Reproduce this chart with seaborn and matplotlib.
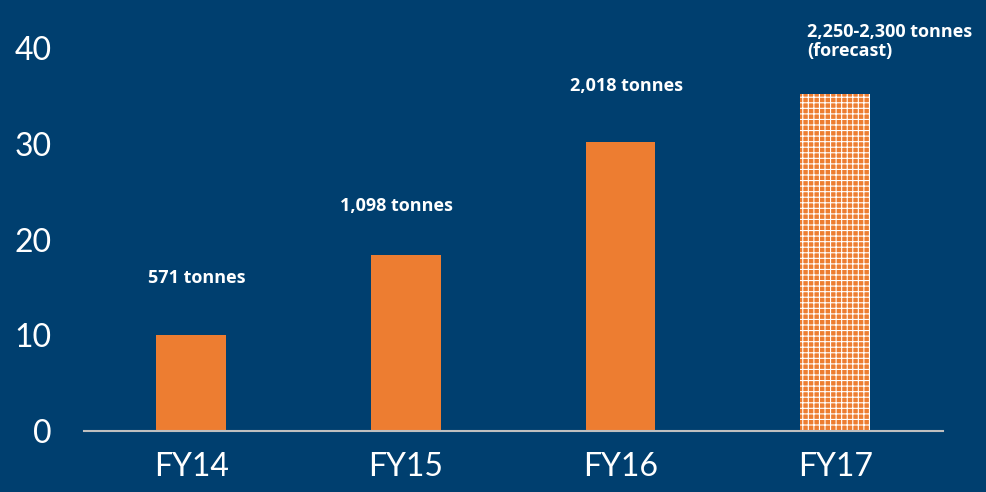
import matplotlib
matplotlib.use("Agg")
import pandas as pd
import matplotlib.pyplot as plt
import seaborn as sns

# chart data
years = ["FY14", "FY15", "FY16", "FY17"]
values = [10, 18.4, 30.2, 35.2]
labels = ["571 tonnes", "1,098 tonnes", "2,018 tonnes", "2,250-2,300 tonnes\n(forecast)"]
forecast = [False, False, False, True]

BG = "#003F6F"
ORANGE = "#ED7D31"

sns.set_style("dark")
plt.rcParams["font.family"] = ["Lato", "DejaVu Sans"]
plt.rcParams["hatch.linewidth"] = 0.8

df = pd.DataFrame({"year": years, "value": values})

fig = plt.figure(figsize=(9.87, 4.92), dpi=100, facecolor=BG)
ax = fig.add_axes([0.085, 0.124, 0.87, 0.778])
ax.set_facecolor(BG)

sns.barplot(data=df, x="year", y="value", color=ORANGE, saturation=1,
            width=0.325, ax=ax)

# forecast bar gets the checkered fill
for patch, fc in zip(ax.patches, forecast):
    patch.set_linewidth(0)
    if fc:
        patch.set_hatch("+++")
        patch.set_edgecolor("white")

ax.set_xlim(-0.5, 3.5)
ax.set_ylim(0, 40)
ax.set_yticks([0, 10, 20, 30, 40])
ax.set_xlabel("")
ax.set_ylabel("")
ax.grid(False)
for side in ["top", "right", "left"]:
    ax.spines[side].set_visible(False)
ax.spines["bottom"].set_color("#BFBFBF")
ax.spines["bottom"].set_linewidth(1.5)
ax.tick_params(axis="both", length=0, colors="white", labelsize=23)
ax.tick_params(axis="y", pad=23)
ax.tick_params(axis="x", pad=15)

# value labels above bars
offsets = [(4, 41), (-7, 35), (4, 40), (39, 38)]
for i, (v, lab) in enumerate(zip(values, labels)):
    ax.annotate(lab, xy=(i, v), xytext=offsets[i], textcoords="offset points",
                ha="center", va="center", color="white", fontsize=13,
                fontweight="bold", family=["Open Sans", "DejaVu Sans"],
                annotation_clip=False, multialignment="left",
                linespacing=1.05)

fig.savefig("out.png", dpi=100, facecolor=BG)
